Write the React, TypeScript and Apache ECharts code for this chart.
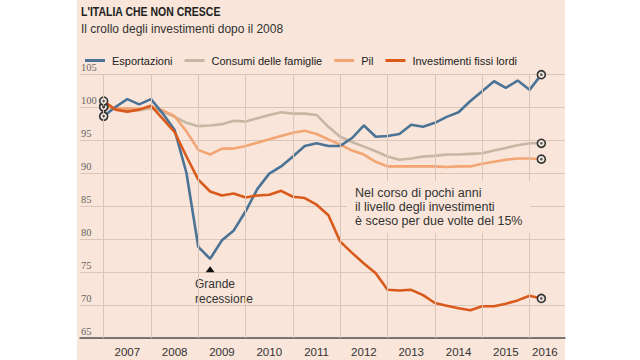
import React, { useEffect, useRef } from "react";
import * as echarts from "echarts";

// Year labels (one band of four quarters each, 2007 Q1 → 2016 Q2)
const years = ["2007", "2008", "2009", "2010", "2011", "2012", "2013", "2014", "2015", "2016"];

// Quarterly index values (base ≈ 100)
const esportazioni = [
  98.6, 100.0, 101.2, 100.4, 101.2, 99.0, 96.5, 90.0,
  78.8, 77.0, 79.8, 81.3, 84.2, 87.6, 89.9, 91.0,
  92.5, 94.1, 94.5, 94.1, 94.1, 95.3, 97.2, 95.5,
  95.6, 95.9, 97.3, 97.0, 97.6, 98.5, 99.2, 100.9,
  102.4, 103.9, 102.9, 104.0, 102.6, 104.9,
];
const consumi = [
  100.0, 99.7, 99.6, 99.5, 99.8, 99.3, 98.5, 97.6,
  97.1, 97.2, 97.4, 97.9, 97.8, 98.3, 98.8, 99.2,
  99.0, 99.0, 98.8, 97.0, 95.5, 94.7, 94.0, 93.3,
  92.5, 92.0, 92.2, 92.5, 92.6, 92.8, 92.8, 92.9,
  93.0, 93.4, 93.8, 94.2, 94.5, 94.5,
];
const pil = [
  100.0, 99.8, 99.8, 99.7, 100.0, 99.5, 98.6, 96.3,
  93.5, 92.8, 93.7, 93.7, 94.1, 94.6, 95.1, 95.6,
  96.1, 96.4, 95.9, 95.1, 94.3, 93.4, 92.8, 91.7,
  91.0, 91.0, 91.0, 91.0, 91.0, 90.9, 91.0, 91.0,
  91.4, 91.7, 92.0, 92.2, 92.2, 92.1,
];
const investimenti = [
  100.9, 99.6, 99.3, 99.6, 100.2, 98.2, 96.2, 92.5,
  89.0, 87.2, 86.6, 86.9, 86.3, 86.6, 86.7, 87.3,
  86.4, 86.2, 85.2, 83.6, 79.6, 77.9, 76.3, 74.8,
  72.3, 72.2, 72.3, 71.5, 70.3, 69.9, 69.5, 69.2,
  69.8, 69.8, 70.2, 70.7, 71.4, 71.0,
];

const PANEL = "#f9e5d9";
const GRID = "#d9c6b8";
const FONT = "'Liberation Sans', Arial, sans-serif";
const SERIF = "'Liberation Serif', 'DejaVu Serif', serif";

const C_EXP = "#4b7395";
const C_CON = "#c6b7a4";
const C_PIL = "#f3a574";
const C_INV = "#d95a1b";

function lineSeries(name: string, values: number[], color: string) {
  const last = values.length - 1;
  return {
    type: "line",
    name,
    z: 3,
    showSymbol: true,
    lineStyle: { color, width: 2.6 },
    itemStyle: { color },
    emphasis: { disabled: true },
    data: values.map((v, i) =>
      i === 0 || i === last
        ? {
            value: [i, v],
            symbol: "circle",
            symbolSize: 8,
            itemStyle: { color: "#efe6df", borderColor: "#333", borderWidth: 1.6 },
          }
        : { value: [i, v], symbol: "none" }
    ),
  };
}

export default function App() {
  const ref = useRef<HTMLDivElement>(null);

  useEffect(() => {
    if (!ref.current) return;
    const chart = echarts.init(ref.current, null, { renderer: "svg" });
    const all = [esportazioni, consumi, pil, investimenti];
    const endDots: number[][] = [];
    all.forEach((arr) => {
      endDots.push([0, arr[0]]);
      endDots.push([arr.length - 1, arr[arr.length - 1]]);
    });

    chart.setOption({
      animation: false,
      backgroundColor: "transparent",
      grid: { left: 80, right: 75, top: 74, bottom: 22, containLabel: false },
      legend: {
        left: 80,
        top: 50,
        icon: "rect",
        itemWidth: 20,
        itemHeight: 3,
        itemGap: 12,
        data: ["Esportazioni", "Consumi delle famiglie", "Pil", "Investimenti fissi lordi"],
        textStyle: { fontFamily: FONT, fontSize: 11, color: "#222", padding: [0, 0, 0, 2] },
        selectedMode: false,
      },
      xAxis: {
        type: "value",
        min: -2,
        max: 39,
        interval: 4,
        axisLine: { show: true, onZero: false, lineStyle: { color: "#555", width: 1.5 } },
        axisTick: { show: false },
        splitLine: { show: false },
        axisLabel: {
          customValues: years.map((_, k) => (k === years.length - 1 ? 37.3 : k * 4 + 2)),
          formatter: (v: number) => {
            const k = Math.round((v - 2) / 4);
            return k >= 0 && k < years.length ? years[k] : "";
          },
          fontFamily: FONT,
          fontSize: 11.5,
          color: "#333",
          margin: 8,
        },
      },
      yAxis: {
        type: "value",
        min: 65,
        max: 105,
        interval: 5,
        axisLine: { show: false },
        axisTick: { show: false },
        splitLine: { show: true, lineStyle: { color: GRID, width: 1 } },
        axisLabel: {
          inside: true,
          margin: 1,
          verticalAlign: "bottom",
          padding: [0, 0, 1, 0],
          fontFamily: SERIF,
          fontSize: 10.5,
          color: "#666",
        },
      },
      graphic: [
        {
          type: "text",
          x: 81,
          y: 5,
          scaleX: 0.84,
          style: {
            text: "L'ITALIA CHE NON CRESCE",
            font: `bold 12.5px ${FONT}`,
            fill: "#222",
            textVerticalAlign: "top",
          },
        },
        {
          type: "text",
          x: 81,
          y: 23,
          style: {
            text: "Il crollo degli investimenti dopo il 2008",
            font: `12px ${FONT}`,
            fill: "#333",
            textVerticalAlign: "top",
          },
        },
        {
          type: "text",
          left: 347,
          top: 181,
          z: 20,
          style: {
            text: "Nel corso di pochi anni\nil livello degli investimenti\nè sceso per due volte del 15%",
            font: `12.5px ${FONT}`,
            lineHeight: 14,
            fill: "#333",
            backgroundColor: PANEL,
            padding: [5, 8, 5, 8],
          },
        },
        {
          type: "text",
          left: 195,
          top: 276,
          style: {
            text: "Grande\nrecessione",
            font: `12px ${FONT}`,
            lineHeight: 15,
            fill: "#333",
          },
        },
      ],
      series: [
        {
          type: "line",
          name: "grid-years",
          z: 1,
          silent: true,
          symbol: "none",
          lineStyle: { opacity: 0 },
          data: [[0, 65]],
          markLine: {
            silent: true,
            symbol: ["none", "none"],
            label: { show: false },
            lineStyle: { color: GRID, width: 1, type: "solid" },
            emphasis: { disabled: true },
            data: years.map((_, k) => ({ xAxis: k * 4 })),
          },
        },
        lineSeries("Consumi delle famiglie", consumi, C_CON),
        lineSeries("Pil", pil, C_PIL),
        {
          ...lineSeries("Esportazioni", esportazioni, C_EXP),
          markPoint: {
            silent: true,
            symbol: "triangle",
            symbolSize: [9, 6],
            itemStyle: { color: "#111" },
            label: { show: false },
            data: [{ coord: [9, 75.4] }],
          },
        },
        lineSeries("Investimenti fissi lordi", investimenti, C_INV),
        {
          type: "scatter",
          name: "dots",
          z: 6,
          silent: true,
          symbolSize: 2.6,
          itemStyle: { color: "#333" },
          data: endDots,
        },
      ],
    });
    return () => chart.dispose();
  }, []);

  return (
    <div style={{ position: "fixed", left: 0, top: 0, width: 640, height: 360, background: "#fff", overflow: "hidden" }}>
      <div style={{ position: "absolute", left: 77, top: 0, width: 488, height: 360, background: PANEL }} />
      <div ref={ref} style={{ position: "absolute", left: 0, top: 0, width: 640, height: 360 }} />
    </div>
  );
}
